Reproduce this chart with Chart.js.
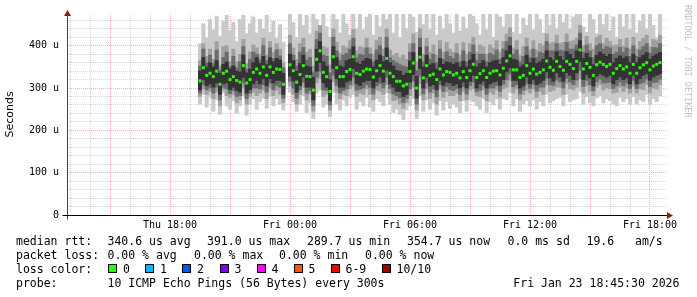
<!DOCTYPE html>
<html>
<head>
<meta charset="utf-8">
<script src="https://cdn.jsdelivr.net/npm/chart.js@4.4.1/dist/chart.umd.min.js"></script>
<style>
  body { margin: 0; background: #fff; }
  #wrap { position: relative; width: 697px; height: 297px; overflow: hidden; background: #fff; }
  #grafico { position: absolute; left: 0; top: 0; }
  .t { position: absolute; font: 11.5px "DejaVu Sans Mono", monospace; line-height: 14px; white-space: pre; color: #000; }
  .box { position: absolute; width: 7px; height: 7px; border: 1px solid #000; top: 264px; }
</style>
</head>
<body>
<div id="wrap">
  <canvas id="grafico" width="697" height="297"></canvas>
  <div id="legenda"></div>
</div>
<script>
// hours since Thu 00:00, one column every 10 min
const inicio = 19.5, passo = 1 / 6;
const eixoMin = 12.85, eixoMax = 42.85;

const mediana = [
  317,348,330,335,327,340,309,335,340,320,
  327,318,314,353,312,320,337,345,335,350,
  330,350,337,345,344,309,null,355,341,314,
  332,353,328,327,295,368,388,337,327,292,
  374,348,327,327,339,344,374,335,332,340,
  345,344,326,341,353,340,370,335,327,316,
  316,305,309,339,359,300,373,324,353,330,
  333,320,345,331,339,337,331,335,324,339,
  325,341,356,325,334,341,325,335,340,341,
  331,347,364,376,343,343,325,330,353,335,
  345,333,337,343,364,349,342,363,351,342,
  363,356,346,363,390,345,358,349,330,355,
  361,356,351,356,335,346,353,345,350,335,
  356,335,348,355,360,343,352,356,360
];
const minimo = [
  262,285,255,278,245,272,238,288,258,250,
  270,240,258,282,236,262,275,250,268,276,
  252,282,258,275,262,248,null,290,268,245,
  262,282,242,265,228,288,295,255,262,232,
  290,262,248,272,258,278,285,250,268,258,
  278,255,245,275,268,258,288,262,242,250,
  238,225,248,258,275,228,282,245,272,250,
  265,236,270,248,268,252,262,255,242,270,
  245,272,268,258,250,275,242,268,260,274,
  250,275,272,290,258,275,245,262,270,258,
  272,250,268,258,285,265,270,275,278,258,
  285,268,272,275,292,262,280,265,258,276,
  282,265,275,270,262,258,278,268,275,262,
  280,262,272,268,285,260,275,268,282
];
const maximo = [
  405,452,418,462,438,470,422,458,472,436,
  455,410,462,472,428,452,468,430,462,440,
  472,432,458,418,450,408,null,475,455,420,
  475,448,472,428,475,462,440,475,445,420,
  475,462,430,475,452,425,475,440,475,438,
  468,475,425,472,445,475,462,475,430,475,
  420,475,440,475,468,432,475,450,475,438,
  475,425,470,440,475,452,430,475,435,468,
  440,475,470,452,425,475,438,475,420,475,
  468,445,475,475,432,475,428,465,448,475,
  438,475,462,430,475,448,475,440,475,455,
  475,440,468,475,475,445,432,475,462,428,
  475,450,475,435,468,420,475,445,475,438,
  475,430,458,475,440,475,448,418,475
];
const meioBaixo = [
  280,298,285,292,275,290,258,295,282,278,
  285,265,272,300,262,280,290,282,288,295,
  275,300,282,295,285,265,null,305,285,262,
  285,302,272,285,245,312,322,280,285,248,
  315,290,275,285,282,298,305,280,288,285,
  298,285,272,295,292,285,308,288,270,272,
  262,252,265,282,302,248,310,272,298,275,
  288,262,298,278,292,282,282,288,270,292,
  272,295,298,282,280,295,270,290,285,296,
  278,298,302,318,288,298,272,285,295,288,
  298,278,292,285,308,292,295,302,302,285,
  310,298,296,302,322,288,305,292,282,302,
  308,295,300,298,288,290,302,292,300,288,
  305,288,298,296,308,288,300,298,308
];
const meioAlto = [
  365,405,375,392,368,410,352,398,400,362,
  392,362,380,415,358,385,402,395,380,418,
  378,410,385,405,392,360,null,425,395,368,
  405,418,385,392,352,435,448,398,395,355,
  440,408,382,400,395,412,438,388,398,395,
  418,395,380,412,420,392,440,390,378,382,
  372,378,368,405,428,362,440,380,418,385,
  402,378,412,385,408,392,385,405,378,408,
  380,405,420,385,402,398,380,402,395,412,
  385,410,428,442,395,412,378,398,418,390,
  412,390,405,400,428,405,408,425,405,408,
  428,410,412,418,448,400,422,405,392,420,
  425,405,418,410,400,402,415,400,418,392,
  420,392,410,418,425,398,415,412,425
];
const cinzaBaixo = [
  288,308,296,300,288,302,272,302,298,287,
  294,280,282,312,275,288,300,300,298,308,
  290,312,296,306,302,276,null,316,300,276,
  296,314,288,294,258,326,340,296,294,260,
  330,306,288,294,298,308,325,295,297,300,
  308,302,286,305,310,300,325,299,286,282,
  277,266,275,298,317,262,328,286,312,290,
  298,279,308,292,303,297,294,299,285,303,
  286,306,314,291,295,306,285,300,300,306,
  292,309,320,333,303,308,286,295,310,299,
  309,293,302,302,323,308,306,319,314,300,
  323,314,308,319,342,304,318,308,294,315,
  321,312,313,314,299,305,314,306,312,299,
  318,299,310,313,321,303,313,314,321
];
const cinzaAlto = [
  352,392,360,378,358,390,342,372,385,350,
  375,348,362,398,345,368,385,380,366,400,
  365,395,370,390,376,348,null,405,378,352,
  385,396,366,372,338,415,430,378,375,336,
  420,388,365,378,382,392,418,372,380,378,
  395,380,362,390,400,375,420,372,365,360,
  355,352,350,385,405,342,418,362,398,368,
  380,360,392,368,386,375,370,382,362,388,
  362,385,402,366,380,380,362,382,378,390,
  368,392,410,420,380,390,362,375,398,372,
  392,372,385,382,410,388,388,405,390,388,
  408,392,392,402,430,385,402,388,372,400,
  405,392,398,395,380,385,396,385,395,375,
  400,375,390,398,405,382,396,395,405
];
const escuroBaixo = [
  295,320,305,310,302,312,285,310,312,296,
  302,294,290,325,288,296,310,318,310,322,
  305,322,312,318,318,285,null,328,316,290,
  306,326,302,302,272,340,360,312,302,270,
  346,322,302,302,314,318,346,310,306,314,
  318,318,300,315,326,314,342,310,302,292,
  292,280,285,314,332,276,346,300,326,305,
  308,296,318,306,314,312,306,310,300,314,
  300,316,330,300,310,316,300,310,314,316,
  306,320,338,348,318,318,300,305,326,310,
  320,308,312,318,338,324,316,336,326,316,
  336,330,320,336,362,320,332,324,305,328,
  334,330,326,330,310,320,326,320,324,310,
  330,310,322,330,334,318,326,330,334
];
const escuroAlto = [
  340,372,350,360,350,365,335,356,362,345,
  352,340,338,378,336,345,360,372,358,375,
  355,372,362,370,366,335,null,380,365,340,
  358,378,352,350,325,392,410,362,352,320,
  398,372,352,350,365,368,398,360,356,364,
  370,368,350,366,378,362,395,360,352,342,
  340,330,335,364,384,328,396,350,378,355,
  358,345,370,356,362,360,356,360,350,364,
  350,366,380,350,358,365,350,360,364,366,
  356,372,388,400,368,366,350,355,378,360,
  370,358,362,368,388,372,366,386,375,366,
  386,380,370,388,412,370,382,372,355,378,
  385,380,375,380,360,370,376,370,374,360,
  380,360,372,378,384,368,376,380,384
];

const ticksX = [18, 24, 30, 36, 42];
const rotulosX = ["Thu 18:00", "Fri 00:00", "Fri 06:00", "Fri 12:00", "Fri 18:00"];
const ticksY = [0, 100, 200, 300, 400];
const rotulosY = ["0", "100 u", "200 u", "300 u", "400 u"];

const tempos = mediana.map((_, i) => inicio + i * passo);

function faixa(baixo, alto) {
  const out = [];
  tempos.forEach((t, i) => {
    if (baixo[i] != null) out.push({ x: t, y: [baixo[i], alto[i]] });
  });
  return out;
}

const pontosMediana = [];
tempos.forEach((t, i) => { if (mediana[i] != null) pontosMediana.push({ x: t, y: mediana[i] }); });

const corGrade = "#d4d4d4", corGradeMaior = "#ebb2b2", corSeta = "#8c1c1c";

const eixos = {
  id: "eixos",
  afterDraw(chart) {
    const ctx = chart.ctx, a = chart.chartArea;
    const y0 = Math.round(chart.scales.y.getPixelForValue(0)) + 0.5;
    const x0 = Math.round(a.left) + 0.5;
    ctx.save();
    ctx.lineWidth = 1;
    ctx.strokeStyle = "#444";
    ctx.beginPath(); ctx.moveTo(x0, y0 + 4); ctx.lineTo(x0, a.top + 1); ctx.stroke();
    ctx.strokeStyle = "#000";
    ctx.beginPath(); ctx.moveTo(x0 - 5, y0); ctx.lineTo(a.right + 1, y0); ctx.stroke();
    ctx.fillStyle = corSeta;
    ctx.beginPath(); ctx.moveTo(a.right + 6, y0); ctx.lineTo(a.right, y0 - 3.5); ctx.lineTo(a.right, y0 + 3.5); ctx.closePath(); ctx.fill();
    ctx.beginPath(); ctx.moveTo(x0, a.top - 4); ctx.lineTo(x0 - 3.5, a.top + 2); ctx.lineTo(x0 + 3.5, a.top + 2); ctx.closePath(); ctx.fill();
    ctx.translate(687, 5);
    ctx.rotate(Math.PI / 2);
    ctx.font = "8.5px 'DejaVu Sans Mono'";
    ctx.fillStyle = "#c0c0c0";
    ctx.textBaseline = "middle";
    ctx.fillText("RRDTOOL / TOBI OETIKER", 0, 0);
    ctx.restore();
  }
};

const barra = { type: "bar", grouped: false, barPercentage: 1, categoryPercentage: 1, borderWidth: 0 };

new Chart(document.getElementById("grafico"), {
  type: "bar",
  data: {
    datasets: [
      { type: "line", data: pontosMediana, showLine: false, pointStyle: "rect", pointRadius: 2.1,
        pointBackgroundColor: "#26ff00", pointBorderWidth: 0 },
      { ...barra, data: faixa(escuroBaixo, escuroAlto), backgroundColor: "#333333" },
      { ...barra, data: faixa(cinzaBaixo, cinzaAlto), backgroundColor: "#6c6c6c" },
      { ...barra, data: faixa(meioBaixo, meioAlto), backgroundColor: "#a0a0a0" },
      { ...barra, data: faixa(minimo, maximo), backgroundColor: "#cacaca" }
    ]
  },
  options: {
    responsive: false,
    animation: false,
    devicePixelRatio: 1,
    layout: { padding: { left: 0, right: 30, top: 12, bottom: 62 } },
    plugins: { legend: { display: false }, tooltip: { enabled: false } },
    scales: {
      x: {
        type: "linear", min: eixoMin, max: eixoMax, offset: false,
        afterBuildTicks: s => { s.ticks = []; for (let h = 13; h <= 42; h++) s.ticks.push({ value: h }); },
        afterFit: s => { s.height = 20; },
        grid: { offset: false, drawTicks: false, lineWidth: 1,
          color: c => c.tick && c.tick.value % 3 === 0 ? corGradeMaior : corGrade },
        border: { display: false, dash: [1, 1] },
        ticks: { autoSkip: false, maxRotation: 0, padding: 4, color: "#000",
          font: { family: "DejaVu Sans Mono", size: 10 },
          callback: v => { const k = ticksX.indexOf(v); return k >= 0 ? rotulosX[k] : ""; } }
      },
      y: {
        min: 0, max: 475,
        afterBuildTicks: s => { s.ticks = []; for (let v = 0; v <= 460; v += 20) s.ticks.push({ value: v }); },
        afterFit: s => { s.width = 67; },
        grid: { drawTicks: false, lineWidth: 1,
          color: c => c.tick && c.tick.value % 100 === 0 ? corGradeMaior : corGrade },
        border: { display: false, dash: [1, 1] },
        title: { display: true, text: "Seconds", color: "#000", padding: { top: 4, bottom: 0 },
          font: { family: "DejaVu Sans", size: 11 } },
        ticks: { autoSkip: false, padding: 8, color: "#000", font: { family: "DejaVu Sans Mono", size: 10 },
          callback: v => { const k = ticksY.indexOf(v); return k >= 0 ? rotulosY[k] : ""; } }
      }
    }
  },
  plugins: [eixos]
});

// legenda no estilo smokeping
const linhas = [
  { top: 234, itens: [[16, "median rtt:"], [107.5, "340.6 us avg"], [207, "391.0 us max"], [307, "289.7 us min"],
    [407, "354.7 us now"], [507.5, "0.0 ms sd"], [586.5, "19.6   am/s"]] },
  { top: 248, itens: [[16, "packet loss:"], [107.5, "0.00 % avg"], [194, "0.00 % max"], [279, "0.00 % min"], [365, "0.00 % now"]] },
  { top: 262, itens: [[16, "loss color:"]] },
  { top: 276, itens: [[16, "probe:"], [107.5, "10 ICMP Echo Pings (56 Bytes) every 300s"], [513.3, "Fri Jan 23 18:45:30 2026"]] }
];
const perdas = [
  [108, "#26ff00", "0"], [145, "#00b8ff", "1"], [182, "#0059ff", "2"], [219.5, "#7e00ff", "3"],
  [256.5, "#ff00ff", "4"], [293.5, "#ff5500", "5"], [330.5, "#ff0000", "6-9"], [381.5, "#a00000", "10/10"]
];
const leg = document.getElementById("legenda");
linhas.forEach(l => l.itens.forEach(([x, txt]) => {
  leg.innerHTML += `<div class="t" style="left:${x}px;top:${l.top}px">${txt}</div>`;
}));
perdas.forEach(([x, cor, txt]) => {
  leg.innerHTML += `<div class="box" style="left:${x}px;background:${cor}"></div>`;
  leg.innerHTML += `<div class="t" style="left:${x + 15}px;top:262px">${txt}</div>`;
});
</script>
</body>
</html>
